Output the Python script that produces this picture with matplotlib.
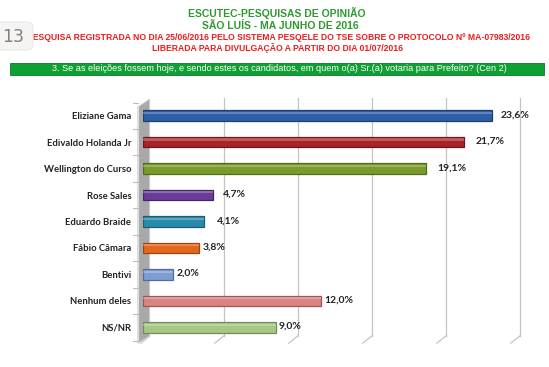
import numpy as np
import matplotlib
matplotlib.use('Agg')
import matplotlib.pyplot as plt
from matplotlib.patches import Rectangle, FancyBboxPatch, Polygon

# data
candidates = ['Eliziane Gama', 'Edivaldo Holanda Jr', 'Wellington do Curso', 'Rose Sales',
              'Eduardo Braide', 'Fábio Câmara', 'Bentivi', 'Nenhum deles', 'NS/NR']
values = [23.6, 21.7, 19.1, 4.7, 4.1, 3.8, 2.0, 12.0, 9.0]
labels = ['23,6%', '21,7%', '19,1%', '4,7%', '4,1%', '3,8%', '2,0%', '12,0%', '9,0%']
grid_vals = [0, 5, 10, 15, 20, 25]

# styles
colors = ['#2d5ea8', '#a82327', '#7a9b2c', '#6a3c98', '#2a8aad', '#e2691c', '#7e9dd3', '#d98383', '#a8c785']
edges = ['#1c3f75', '#701518', '#536b1c', '#452566', '#1b5e78', '#9c4511', '#506ca0', '#a05555', '#728d55']
label_gap = [0.55, 0.75, 0.78, 0.68, 0.88, 0.22, 0.25, 0.22, 0.18]

fig = plt.figure(figsize=(5.49, 3.67), dpi=100)
fig.patch.set_facecolor('white')

# header texts
fig.text(0.505, 0.965, 'ESCUTEC-PESQUISAS DE OPINIÃO', color='#2e9a2e', fontsize=7.5,
         fontweight='bold', ha='center', va='center', family='Liberation Sans')
fig.text(0.510, 0.929, 'SÃO LUÍS - MA JUNHO DE 2016', color='#2e9a2e', fontsize=7.5,
         fontweight='bold', ha='center', va='center', family='Liberation Sans')
fig.text(0.507, 0.899, 'PESQUISA REGISTRADA NO DIA 25/06/2016 PELO SISTEMA PESQELE DO TSE SOBRE O PROTOCOLO Nº MA-07983/2016',
         color='#ee1c1c', fontsize=6.2, fontweight='bold', ha='center', va='center', family='Liberation Sans')
fig.text(0.505, 0.869, 'LIBERADA PARA DIVULGAÇÃO A PARTIR DO DIA 01/07/2016', color='#ee1c1c',
         fontsize=6.2, fontweight='bold', ha='center', va='center', family='Liberation Sans')

# page number box over the left edge
fig.patches.append(FancyBboxPatch((-0.02, 0.864), 0.08, 0.076, boxstyle='round,pad=0,rounding_size=0.012',
                                  transform=fig.transFigure, facecolor='#f6f3f3', edgecolor='#efebeb', zorder=5))
fig.text(0.024, 0.899, '13', color='#808080', fontsize=12.5, ha='center', va='center', zorder=6)

# green question banner
fig.patches.append(Rectangle((0.018, 0.796), 0.973, 0.033, transform=fig.transFigure,
                             facecolor='#0fa033', edgecolor='#0b7a26', lw=0.6))
fig.text(0.508, 0.8125, '3. Se as eleições fossem hoje, e sendo estes os candidatos, em quem o(a) Sr.(a) votaria para Prefeito? (Cen 2)',
         color='white', fontsize=6.6, ha='center', va='center', family='Liberation Sans')

ax = fig.add_axes([0.2605, 0.0722, 0.674, 0.6485])
y = np.arange(len(candidates))
ytop, ybot = -0.5, len(candidates) - 0.5

# back wall grid lines, with the floor edge going to the front
dx, dy = 0.45, -0.27
for g in grid_vals[1:]:
    ax.plot([g + dx, g + dx], [ytop - 0.17, ybot + dy + 0.1], color='#c4c4c4', lw=0.9,
            clip_on=False, zorder=0)
for g in grid_vals:
    ax.plot([g + dx, g - 0.15], [ybot + dy + 0.1, ybot + 0.1], color='#c4c4c4', lw=0.9,
            clip_on=False, zorder=0)

# grey side wall
ax.add_patch(Polygon([(-0.35, ytop + 0.17), (dx, ytop - 0.13), (dx, ybot + dy + 0.1), (-0.35, ybot + 0.1)],
                     closed=True, facecolor='#a9a9a9', edgecolor='#cfcfcf', lw=0.6,
                     clip_on=False, zorder=1))
ax.plot([-0.35, -0.35], [ytop + 0.17, ybot + 0.1], color='#e0e0e0', lw=0.8, clip_on=False, zorder=1)

# category separator ticks on the front edge of the wall
for b in np.arange(len(candidates) + 1) - 0.5:
    ax.plot([-0.7, -0.35], [b, b], color='#bdbdbd', lw=0.8, clip_on=False, zorder=1)

ax.barh(y, values, height=0.40, color=colors, edgecolor=edges, linewidth=0.9, zorder=3)
# light highlight along the top of each bar
ax.barh(y - 0.1, values, height=0.08, color='white', alpha=0.25, linewidth=0, zorder=4)

for yi, v, lab, gap in zip(y, values, labels, label_gap):
    ax.text(v + gap, yi - 0.03, lab, fontsize=7.5, fontweight='bold', va='center', ha='left',
            family='Lato', color='#222222')

ax.set_xlim(0, 25)
ax.set_ylim(ybot, ytop)
ax.set_xticks([])

ax.set_yticks(y)
ax.set_yticklabels(candidates, fontsize=6.8, fontweight='bold', family='Lato', color='#222222')
ax.tick_params(axis='y', which='major', length=0, pad=8.5)

for s in ['top', 'right', 'bottom', 'left']:
    ax.spines[s].set_visible(False)
ax.patch.set_alpha(0)

fig.savefig('out.png', dpi=100)
